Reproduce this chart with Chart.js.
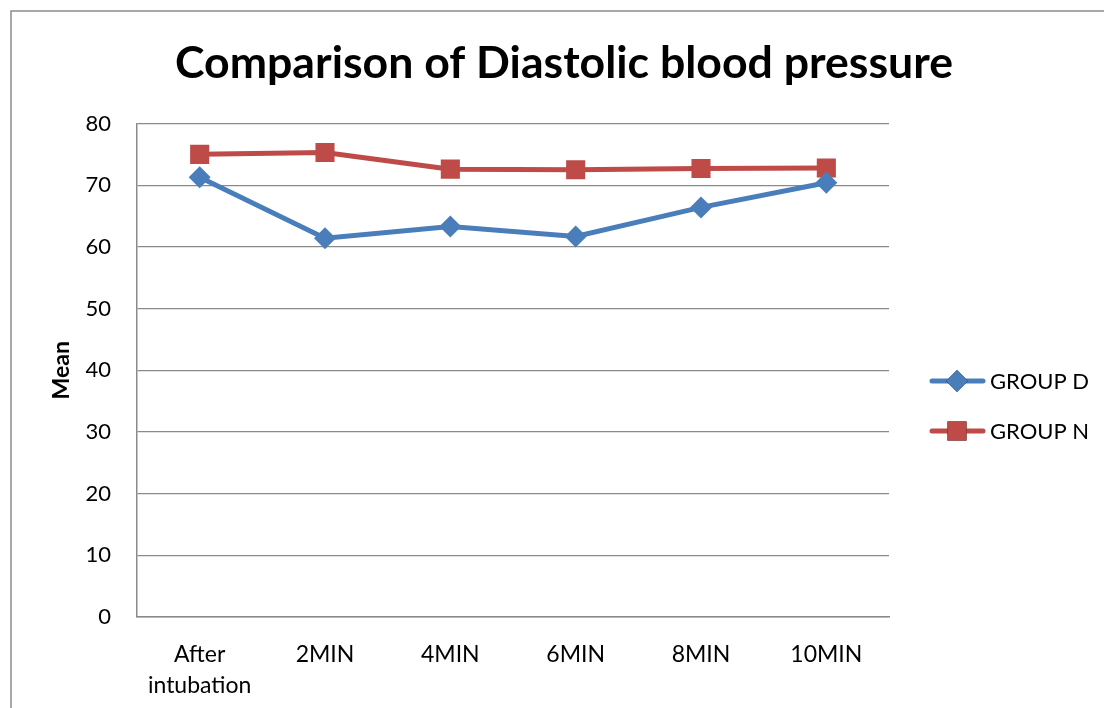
<!DOCTYPE html>
<html>
<head>
<meta charset="utf-8">
<script src="https://cdn.jsdelivr.net/npm/chart.js@4"></script>
<style>
  html, body { margin: 0; padding: 0; background: #fff; }
  #wrap { width: 1104px; height: 708px; }
</style>
</head>
<body>
<div id="wrap"><canvas id="chart" width="1104" height="708"></canvas></div>
<script>
const categories = [['After', 'intubation'], '2MIN', '4MIN', '6MIN', '8MIN', '10MIN']
const groupD = [71.3, 61.4, 63.3, 61.7, 66.4, 70.4]
const groupN = [75.0, 75.3, 72.6, 72.5, 72.7, 72.8]
const yTicks = [0, 10, 20, 30, 40, 50, 60, 70, 80]

const FONT = 'Lato, "Open Sans", sans-serif'
const BLUE = '#4a7ebb'
const RED = '#be4b48'
const GRID = '#8a8a8a'

// outer frame like the office chart border
const framePlugin = {
  id: 'frame',
  beforeDraw(chart) {
    const ctx = chart.ctx
    ctx.save()
    ctx.fillStyle = '#fff'
    ctx.fillRect(0, 0, chart.width, chart.height)
    ctx.strokeStyle = '#8c8c8c'
    ctx.lineWidth = 1.5
    ctx.beginPath()
    ctx.moveTo(11, chart.height)
    ctx.lineTo(11, 11)
    ctx.lineTo(chart.width, 11)
    ctx.stroke()
    ctx.restore()
  },
}

// legend drawn as line + marker, like Excel
const legendPlugin = {
  id: 'lineLegend',
  afterDraw(chart) {
    const ctx = chart.ctx
    chart.data.datasets.forEach((ds, i) => {
      const y = 381 + i * 50
      ctx.save()
      ctx.strokeStyle = ds.borderColor
      ctx.lineWidth = 5
      ctx.lineCap = 'round'
      ctx.beginPath()
      ctx.moveTo(932, y)
      ctx.lineTo(983, y)
      ctx.stroke()
      Chart.helpers.drawPoint(ctx, {
        pointStyle: ds.pointStyle,
        radius: ds.pointRadius,
        borderWidth: 0,
      }, 957, y)
      ctx.fillStyle = ds.pointBackgroundColor
      ctx.fill()
      ctx.fillStyle = '#000'
      ctx.font = '22px ' + FONT
      ctx.textBaseline = 'middle'
      ctx.fillText(ds.label, 990, y + 1)
      ctx.restore()
    })
  },
}

const config = {
  type: 'line',
  data: {
    labels: categories,
    datasets: [
      {
        label: 'GROUP D',
        data: groupD,
        borderColor: BLUE,
        backgroundColor: BLUE,
        pointBackgroundColor: BLUE,
        pointBorderColor: BLUE,
        borderWidth: 5,
        pointStyle: 'rectRot',
        pointRadius: 11,
        pointBorderWidth: 0,
        tension: 0,
      },
      {
        label: 'GROUP N',
        data: groupN,
        borderColor: RED,
        backgroundColor: RED,
        pointBackgroundColor: RED,
        pointBorderColor: RED,
        borderWidth: 5,
        pointStyle: 'rect',
        pointRadius: 13.5,
        pointBorderWidth: 0,
        tension: 0,
      },
    ],
  },
  options: {
    responsive: false,
    animation: false,
    layout: { padding: { left: 24, right: 0, top: 0, bottom: 0 } },
    plugins: {
      legend: { display: false },
      tooltip: { enabled: false },
      title: {
        display: true,
        text: 'Comparison of Diastolic blood pressure',
        color: '#000',
        font: { family: FONT, size: 44.6, weight: 'bold' },
        padding: { top: 37, bottom: 33 },
      },
    },
    scales: {
      x: {
        offset: true,
        grid: { display: false, drawTicks: false },
        border: { display: true, color: GRID, width: 1.5 },
        ticks: {
          color: '#000',
          font: { family: FONT, size: 23, lineHeight: 1.35 },
          padding: 22,
          maxRotation: 0,
          autoSkip: false,
        },
        afterFit(scale) { scale.height = 91 },
      },
      y: {
        min: 0,
        max: 80,
        afterBuildTicks(scale) { scale.ticks = yTicks.map((v) => ({ value: v })) },
        grid: { color: GRID, lineWidth: 1.3, drawTicks: false },
        border: { display: true, color: GRID, width: 1.5 },
        ticks: {
          color: '#000',
          font: { family: FONT, size: 22 },
          padding: 26,
        },
        title: {
          display: true,
          text: 'Mean',
          color: '#000',
          font: { family: FONT, size: 23, weight: 'bold' },
          padding: { top: 24, bottom: 0 },
        },
        afterFit(scale) { scale.width = 113 },
      },
      // empty right axis reserving room for the legend
      side: {
        type: 'linear',
        position: 'right',
        display: true,
        grid: { display: false, drawTicks: false },
        border: { display: false },
        ticks: { display: false },
        afterFit(scale) { scale.width = 215 },
      },
    },
  },
  plugins: [framePlugin, legendPlugin],
}

new Chart(document.getElementById('chart'), config)
</script>
</body>
</html>
